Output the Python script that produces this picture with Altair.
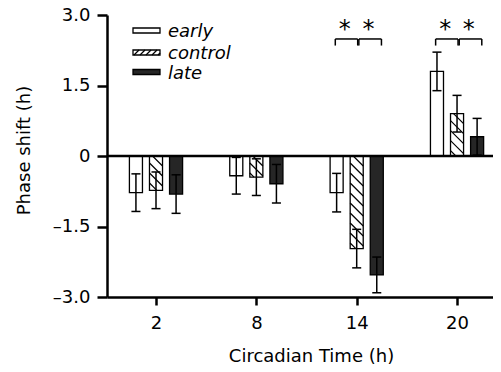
import altair as alt
import pandas as pd

# ---------------- data ----------------
times = [2, 8, 14, 20]
groups = ["early", "control", "late"]
early = [-0.78, -0.42, -0.78, 1.80]
control = [-0.73, -0.45, -1.97, 0.90]
late = [-0.81, -0.59, -2.53, 0.41]
early_se = [0.40, 0.39, 0.41, 0.41]
control_se = [0.39, 0.39, 0.41, 0.39]
late_se = [0.41, 0.41, 0.38, 0.39]

sig_times = [14, 14, 20, 20]
sig_from = ["early", "control", "early", "control"]
sig_to = ["control", "late", "control", "late"]
sig_label = ["*", "*", "*", "*"]

x_ticks = [2, 8, 14, 20]
y_ticks = [-3, -1.5, 0, 1.5, 3]
y_tick_labels = ["\u20133.0", "\u20131.5", "0", "1.5", "3.0"]

# ---------------- layout / style ----------------
W, H = 386, 282
XDOM = [-0.93, 22.15]
YDOM = [-3, 3]
SX = W / (XDOM[1] - XDOM[0])
SY = H / (YDOM[1] - YDOM[0])
OFF = {"early": -1.2, "control": 0.0, "late": 1.2}
HALF = 0.39
CAP = 0.27
FONT = "DejaVu Sans"
FILL = {"early": "white", "control": "white", "late": "#262626"}

vals = {"early": early, "control": control, "late": late}
ses = {"early": early_se, "control": control_se, "late": late_se}

rows = []
for g in groups:
    for i, t in enumerate(times):
        v = vals[g][i]
        s = ses[g][i]
        c = t + OFF[g]
        rows.append(dict(group=g, t=t, v=v, c=c, x0=c - HALF, x1=c + HALF,
                         lo=v - s, hi=v + s, cl=c - CAP, cr=c + CAP, zero=0.0))
bars = pd.DataFrame(rows)


def hatch(x0, x1, ytop, ybot, spacing=10.0):
    w = (x1 - x0) * SX
    h = (ytop - ybot) * SY
    segs = []
    c = -w
    while c < h:
        us = max(0.0, -c)
        ue = min(w, h - c)
        if ue > us:
            segs.append(dict(xa=x0 + us / SX, ya=ytop - (us + c) / SY,
                             xb=x0 + ue / SX, yb=ytop - (ue + c) / SY))
        c += spacing
    return segs


hrows = []
for r in rows:
    if r["group"] == "control":
        top = max(r["v"], 0.0)
        bot = min(r["v"], 0.0)
        hrows += hatch(r["x0"], r["x1"], top, bot)
hat = pd.DataFrame(hrows)

xs = alt.Scale(domain=XDOM, nice=False, zero=False)
ys = alt.Scale(domain=YDOM, nice=False, zero=False)

label_map = "{" + ",".join(f"'{v:g}':'{l}'" for v, l in zip(y_ticks, y_tick_labels)) + "}"

base = alt.Chart(bars)

bar_layer = base.mark_rect(stroke="black", strokeWidth=1.3).encode(
    x=alt.X("x0:Q", scale=xs,
            axis=alt.Axis(values=x_ticks, title="Circadian Time (h)", grid=False,
                          domainWidth=2.5, domainColor="black", tickWidth=2.5,
                          tickColor="black", tickSize=8, labelFontSize=18,
                          labelFont=FONT, labelColor="black", labelPadding=9,
                          titleFont=FONT, titleFontSize=18, titleFontWeight="normal",
                          titleColor="black", titleBaseline="alphabetic",
                          titleX=204, titleY=64, titleAnchor="middle", titleAlign="center")),
    x2="x1:Q",
    y=alt.Y("v:Q", scale=ys,
            axis=alt.Axis(values=y_ticks, labelExpr=f"{label_map}[datum.value]",
                          title="Phase shift (h)", grid=False, domainWidth=2.5,
                          domainColor="black", tickWidth=2.5, tickColor="black",
                          tickSize=10, labelFontSize=18, labelFont=FONT,
                          labelColor="black", labelPadding=7, titleFont=FONT,
                          titleFontSize=18, titleFontWeight="normal", titleColor="black",
                          titleAngle=-90, titleBaseline="alphabetic", titleAlign="center",
                          titleX=-78, titleY=135)),
    y2="zero:Q",
    fill=alt.Fill("group:N", scale=alt.Scale(domain=groups, range=[FILL[g] for g in groups]),
                  legend=None),
)

hatch_layer = alt.Chart(hat).mark_rule(color="black", strokeWidth=1.2).encode(
    x=alt.X("xa:Q", scale=xs), y=alt.Y("ya:Q", scale=ys), x2="xb:Q", y2="yb:Q")

err_v = base.mark_rule(color="black", strokeWidth=1.5).encode(
    x=alt.X("c:Q", scale=xs), y=alt.Y("lo:Q", scale=ys), y2="hi:Q")
cap_lo = base.mark_rule(color="black", strokeWidth=1.5).encode(
    x=alt.X("cl:Q", scale=xs), x2="cr:Q", y=alt.Y("lo:Q", scale=ys))
cap_hi = base.mark_rule(color="black", strokeWidth=1.5).encode(
    x=alt.X("cl:Q", scale=xs), x2="cr:Q", y=alt.Y("hi:Q", scale=ys))

zero_line = alt.Chart(pd.DataFrame({"z": [0.0]})).mark_rule(
    color="black", strokeWidth=2.5).encode(y=alt.Y("z:Q", scale=ys))

# significance brackets
B_TOP, B_LEG, STAR_Y = 2.49, 2.35, 2.53
brows, srows = [], []
for k, (t, a, b) in enumerate(zip(sig_times, sig_from, sig_to)):
    first = a == "early"
    left = t + OFF[a] + (-0.08 if first else 0.13)
    right = t + OFF[b] + (0.06 if first else 0.28)
    brows.append(dict(xa=left, xb=right, ya=B_TOP, yb=B_TOP))
    brows.append(dict(xa=left, xb=left, ya=B_TOP, yb=B_LEG))
    brows.append(dict(xa=right, xb=right, ya=B_TOP, yb=B_LEG))
    srows.append(dict(x=(left + right) / 2 - 0.1, y=STAR_Y, s=sig_label[k]))
brk = alt.Chart(pd.DataFrame(brows)).mark_rule(color="black", strokeWidth=1.5).encode(
    x=alt.X("xa:Q", scale=xs), x2="xb:Q", y=alt.Y("ya:Q", scale=ys), y2="yb:Q")
stars = alt.Chart(pd.DataFrame(srows)).mark_text(
    font=FONT, fontSize=24, color="black", baseline="alphabetic", align="center").encode(
    x=alt.X("x:Q", scale=xs), y=alt.Y("y:Q", scale=ys), text="s:N")

# manual legend (pixel layout)
LX0, LX1, LTX = 26, 53, 61
LY = {"early": 15.5, "control": 37.5, "late": 57.0}
LH = 2.5
leg = pd.DataFrame([dict(group=g, x0=LX0, x1=LX1, y0=LY[g] - LH, y1=LY[g] + LH,
                         ty=LY[g] + 6.5) for g in groups])
leg_rect = alt.Chart(leg).mark_rect(stroke="black", strokeWidth=1.3).encode(
    x=alt.X("x0:Q", scale=None), x2="x1:Q", y=alt.Y("y0:Q", scale=None), y2="y1:Q",
    fill=alt.Fill("group:N", scale=alt.Scale(domain=groups, range=[FILL[g] for g in groups]),
                  legend=None))
leg_text = alt.Chart(leg).mark_text(font=FONT, fontSize=18, fontStyle="italic",
                                    align="left", baseline="alphabetic", color="black").encode(
    x=alt.value(LTX), y=alt.Y("ty:Q", scale=None), text="group:N")
lh = []
yb, yt = LY["control"] + LH, LY["control"] - LH
xx = LX0 + 1
while xx < LX1:
    xe = min(xx + 5, LX1)
    lh.append(dict(xa=xx, ya=yb, xb=xe, yb=yb - (xe - xx)))
    xx += 6
leg_hatch = alt.Chart(pd.DataFrame(lh)).mark_rule(color="black", strokeWidth=1.2).encode(
    x=alt.X("xa:Q", scale=None), x2="xb:Q", y=alt.Y("ya:Q", scale=None), y2="yb:Q")

chart = alt.layer(
    bar_layer, hatch_layer, err_v, cap_lo, cap_hi, zero_line, brk, stars,
    leg_rect, leg_hatch, leg_text
).properties(
    width=W, height=H,
    autosize=alt.AutoSizeParams(type="none"),
    padding={"left": 99, "top": 7, "right": 0, "bottom": 67},
    background="white",
).configure_view(stroke=None)

chart.save("out.html", embed_options={"renderer": "svg", "actions": False})
